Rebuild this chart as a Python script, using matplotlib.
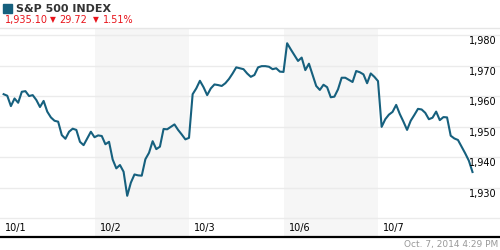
import matplotlib
matplotlib.use('Agg')
import matplotlib.pyplot as plt
import matplotlib.transforms as mtransforms

# S&P 500, 15-minute closes, 26 points per session
day_labels = ['10/1', '10/2', '10/3', '10/6', '10/7']
shaded_days = [1, 3]
prices = [
    # 10/1
    1960.6, 1960.1, 1956.7, 1959.2, 1957.8, 1961.4, 1961.6, 1960.0, 1960.3, 1958.7,
    1956.4, 1958.4, 1954.9, 1953.0, 1951.9, 1951.6, 1947.2, 1946.0, 1948.3, 1949.3,
    1948.9, 1945.0, 1943.9, 1946.1, 1948.3, 1946.5,
    # 10/2
    1947.1, 1946.9, 1944.2, 1945.0, 1939.2, 1936.3, 1937.4, 1935.2, 1927.3, 1931.6,
    1934.3, 1934.0, 1933.9, 1939.3, 1941.4, 1945.2, 1942.6, 1943.4, 1949.2, 1949.1,
    1949.9, 1950.7, 1948.9, 1947.4, 1945.8, 1946.3,
    # 10/3
    1960.6, 1962.5, 1965.0, 1962.9, 1960.3, 1962.5, 1963.8, 1963.6, 1963.3, 1964.2,
    1965.6, 1967.4, 1969.4, 1969.1, 1968.8, 1967.4, 1966.3, 1966.9, 1969.4, 1969.8,
    1969.8, 1969.6, 1968.8, 1969.1, 1968.0, 1967.9,
    # 10/6
    1977.3, 1975.3, 1973.4, 1971.5, 1972.6, 1968.5, 1970.6, 1966.9, 1963.3, 1962.0,
    1963.7, 1962.9, 1959.6, 1959.8, 1962.2, 1966.0, 1966.0, 1965.3, 1964.6, 1968.2,
    1967.8, 1967.1, 1964.2, 1967.4, 1966.3, 1964.9,
    # 10/7
    1949.9, 1952.4, 1953.9, 1954.8, 1957.1, 1954.1, 1951.6, 1948.9, 1951.9, 1953.8,
    1955.8, 1955.6, 1954.5, 1952.4, 1952.9, 1954.9, 1952.1, 1953.1, 1953.0, 1947.0,
    1946.1, 1945.6, 1943.4, 1941.2, 1938.8, 1935.1,
]
y_ticks = [1920, 1930, 1940, 1950, 1960, 1970, 1980]
y_labels = ['', '1,930', '1,940', '1,950', '1,960', '1,970', '1,980']
pts_per_day = 26

x = [i // pts_per_day + (i % pts_per_day + 1) / pts_per_day for i in range(len(prices))]

fig = plt.figure(figsize=(5, 2.5), dpi=100)
ax = fig.add_axes([0, 13 / 250, 1, 209 / 250])
ax.set_xlim(0, 500 / 94.5)
ax.set_ylim(1913.8, 1982.3)

for d in shaded_days:
    ax.axvspan(d, d + 1, color='#f6f6f6', lw=0, zorder=0)
for v in y_ticks:
    ax.axhline(v, color='#ebebeb', lw=1, zorder=1)

ax.plot(x, prices, color='#16607e', lw=1.5, zorder=3, solid_joinstyle='round')

ax.set_xticks([])
ax.set_yticks([])
for s in ['left', 'right']:
    ax.spines[s].set_visible(False)
ax.spines['top'].set_color('#e6e6e6')
ax.spines['top'].set_linewidth(1)
ax.spines['bottom'].set_color('black')
ax.spines['bottom'].set_linewidth(1.6)

# y labels inside, right side, a little below each gridline
lab_tr = mtransforms.offset_copy(ax.transData, fig=fig, x=0, y=-4.5, units='points')
for v, lab in zip(y_ticks, y_labels):
    ax.text(497 / 94.5, v, lab, transform=lab_tr,
            ha='right', va='center', fontsize=7, color='black')

# day labels along the bottom
for d, lab in enumerate(day_labels):
    ax.text(d + 5 / 94.5, 1916.8, lab, ha='left', va='center', fontsize=7, color='black')

# header
fig.patches.append(plt.Rectangle((3 / 500, 1 - 13 / 250), 9 / 500, 9 / 250,
                                 transform=fig.transFigure, color='#16607e'))
fig.text(16 / 500, 1 - 8.5 / 250, 'S&P 500 INDEX', fontsize=8, fontweight='bold',
         color='#333333', ha='left', va='center')
red = '#e8141b'
fig.text(5 / 500, 1 - 20 / 250, '1,935.10', fontsize=7, color=red, ha='left', va='center')
fig.text(50 / 500, 1 - 20 / 250, '\u25bc', fontsize=5.5, color=red, ha='left', va='center')
fig.text(59 / 500, 1 - 20 / 250, '29.72', fontsize=7, color=red, ha='left', va='center')
fig.text(93 / 500, 1 - 20 / 250, '\u25bc', fontsize=5.5, color=red, ha='left', va='center')
fig.text(103 / 500, 1 - 20 / 250, '1.51%', fontsize=7, color=red, ha='left', va='center')

fig.text(498 / 500, 1 - 245 / 250, 'Oct. 7, 2014 4:29 PM', fontsize=6.5, color='#999999',
         ha='right', va='center')

fig.savefig('out.png', dpi=100)
